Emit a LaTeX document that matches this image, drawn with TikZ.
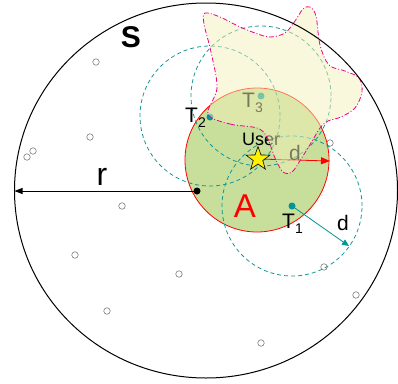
\documentclass[tikz,border=0pt]{standalone}
\usepackage{fontspec}
\setmainfont{Liberation Sans}
\usetikzlibrary{shapes.geometric,arrows.meta}
\definecolor{tealc}{RGB}{0,150,150}
\definecolor{dashc}{RGB}{20,150,150}
\definecolor{greenA}{RGB}{176,208,112}
\definecolor{blobY}{RGB}{245,241,185}
\definecolor{ptgray}{RGB}{125,125,125}
\newcommand{\fs}[1]{\fontsize{#1}{#1}\selectfont}
\begin{document}
\begin{tikzpicture}[x=1pt,y=-1pt,
  other/.style={circle,draw=ptgray,line width=0.6pt,fill=white,minimum size=6.5pt,inner sep=0pt},
  tpt/.style={circle,fill=tealc,minimum size=7pt,inner sep=0pt},
  rangec/.style={draw=dashc,line width=0.8pt,dash pattern=on 4pt off 3pt},
  lbl/.style={anchor=base,inner sep=0pt}]
\useasboundingbox (0,0) rectangle (398,383);
% other points
\foreach \x/\y [count=\i] in {96/62,90/137,33/151,27/157,122/206,75/255,179/274,107/311,261/343,324/267,356/295,330/143}
  \node[other] (p\i) at (\x,\y) {};
% area A
\draw[red,line width=0.8pt,fill=greenA,fill opacity=0.7] (257,160) circle [radius=72pt];
% range circles
\draw[rangec] (292,206) circle [radius=70pt];
\draw[rangec] (210,116) circle [radius=70pt];
\draw[rangec] (261,96) circle [radius=70pt];
% T points
\node[tpt] (T1) at (292,206) {};
\node[tpt] (T2) at (210,117) {};
\node[tpt] (T3) at (261,96) {};
\node[lbl] (t1l) at (288.5,228) {\fs{21}T};
\node[lbl] (t1s) at (299,233) {\fs{14}1};
\node[lbl] (t2l) at (191.5,122) {\fs{21}T};
\node[lbl] (t2s) at (202,127) {\fs{14}2};
\node[lbl] (t3l) at (248.5,107) {\fs{21}T};
\node[lbl] (t3s) at (259,112) {\fs{14}3};
% user
\coordinate (uc) at (258,159);
\coordinate (dA) at (330,161);
\draw[red,line width=0.8pt,-{Triangle[length=9pt,width=7pt]}] (uc) -- (dA);
\node[lbl,anchor=base west] (userl) at (242,145) {\fs{18}User};
\node[lbl] (dl1) at (295,160) {\fs{21}d};
\node[star,star points=5,star point ratio=2.5,draw=black,line width=0.6pt,fill=yellow,minimum size=25pt,inner sep=0pt] (user) at (uc) {};
% T1 range arrow
\coordinate (dT1) at (349,246);
\draw[tealc,line width=0.8pt,-{Triangle[length=7pt,width=6pt]}] (T1.center) -- (dT1);
\node[lbl] (dl2) at (343,230) {\fs{21}d};
% blob
\draw[magenta,line width=0.8pt,dash pattern=on 5pt off 2pt on 1pt off 2pt,fill=blobY,fill opacity=0.5]
  plot[smooth cycle,tension=0.55] coordinates {
  (208,114) (230,124) (257,128) (267,137) (275,158) (283,172) (292,172)
  (301,159) (311,143) (320,128) (328,121) (341,117) (355,108) (362,92)
  (359,78) (345,71) (329,65) (320,45) (316,16) (310,7) (303,9) (295,21)
  (285,33) (270,37) (255,33) (238,26) (220,17) (205,13) (204,24) (211,52)
  (217,88) };
% S
\draw[black,line width=1pt] (206,190.5) ellipse [x radius=191.5pt, y radius=187.5pt];
\node[lbl] (Sl) at (131,47) {\fs{30}\bfseries S};
% radius r
\node[circle,fill=black,minimum size=7pt,inner sep=0pt] (c) at (197,191) {};
\coordinate (sl) at (14.5,191);
\draw[black,line width=0.8pt,-{Triangle[length=8pt,width=6pt]}] (c.center) -- (sl);
\node[lbl] (rl) at (102,185) {\fs{32}r};
\node[lbl,text=red] (Al) at (245,217) {\fs{33}A};
\end{tikzpicture}
\end{document}
